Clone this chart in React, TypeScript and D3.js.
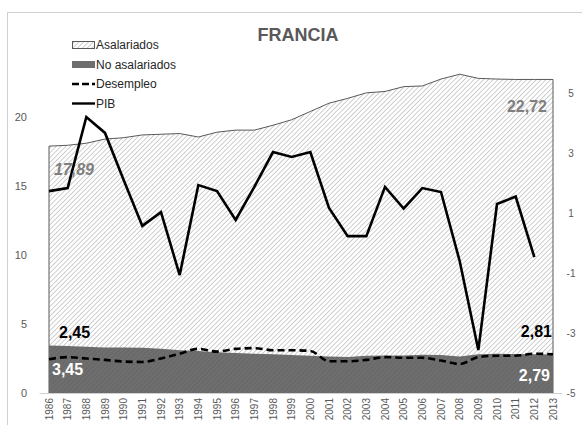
import React, { useEffect, useRef } from "react";
import * as d3 from "d3";

const years = [
  "1986", "1987", "1988", "1989", "1990", "1991", "1992", "1993", "1994", "1995",
  "1996", "1997", "1998", "1999", "2000", "2001", "2002", "2003", "2004", "2005",
  "2006", "2007", "2008", "2009", "2010", "2011", "2012", "2013",
];

// left axis series
const asalariados = [
  17.89, 17.95, 18.1, 18.4, 18.5, 18.7, 18.75, 18.8, 18.55, 18.9,
  19.05, 19.05, 19.4, 19.8, 20.4, 21.0, 21.35, 21.75, 21.85, 22.2,
  22.25, 22.75, 23.1, 22.8, 22.75, 22.72, 22.72, 22.72,
];
const noAsalariados = [
  3.45, 3.4, 3.35, 3.3, 3.3, 3.28, 3.2, 3.1, 3.05, 2.95,
  2.9, 2.85, 2.8, 2.75, 2.7, 2.65, 2.6, 2.7, 2.72, 2.72,
  2.78, 2.75, 2.65, 2.8, 2.85, 2.82, 2.8, 2.79,
];
const desempleo = [
  2.45, 2.6, 2.5, 2.4, 2.28, 2.25, 2.5, 2.85, 3.2, 3.0,
  3.2, 3.25, 3.1, 3.1, 3.05, 2.3, 2.3, 2.4, 2.6, 2.55,
  2.55, 2.35, 2.1, 2.6, 2.7, 2.7, 2.85, 2.81,
];
// right axis series (1986-2012)
const pib = [
  1.73, 1.83, 4.2, 3.67, 2.1, 0.57, 1.03, -1.07, 1.93, 1.73,
  0.77, 1.87, 3.03, 2.87, 3.03, 1.17, 0.23, 0.23, 1.87, 1.15,
  1.83, 1.7, -0.6, -3.57, 1.3, 1.55, -0.47,
];

const leftTicks = [0, 5, 10, 15, 20];
const rightTicks = [-5, -3, -1, 1, 3, 5];
const legendItems = ["Asalariados", "No asalariados", "Desempleo", "PIB"];

const fmt = (v: number) => d3.format(".2f")(v).replace(".", ",");

const App: React.FC = () => {
  const svgRef = useRef<SVGSVGElement | null>(null);

  useEffect(() => {
    if (!svgRef.current) return;
    const width = 582;
    const height = 425;
    const font = "'Liberation Sans', Arial, sans-serif";

    const svg = d3.select(svgRef.current);
    svg.selectAll("*").remove();
    svg.attr("width", width).attr("height", height);

    // patterns
    const defs = svg.append("defs");
    const hatch = defs
      .append("pattern")
      .attr("id", "hatch")
      .attr("patternUnits", "userSpaceOnUse")
      .attr("width", 3.4)
      .attr("height", 3.4)
      .attr("patternTransform", "rotate(45)");
    hatch.append("rect").attr("width", 3.4).attr("height", 3.4).attr("fill", "#fff");
    hatch
      .append("line")
      .attr("x1", 0).attr("y1", 0).attr("x2", 0).attr("y2", 3.4)
      .attr("stroke", "#a8a8a8")
      .attr("stroke-width", 1.1);

    const darkHatch = defs
      .append("pattern")
      .attr("id", "darkHatch")
      .attr("patternUnits", "userSpaceOnUse")
      .attr("width", 3.4)
      .attr("height", 3.4)
      .attr("patternTransform", "rotate(45)");
    darkHatch.append("rect").attr("width", 3.4).attr("height", 3.4).attr("fill", "#6a6a6a");
    darkHatch
      .append("line")
      .attr("x1", 0).attr("y1", 0).attr("x2", 0).attr("y2", 3.4)
      .attr("stroke", "#787878")
      .attr("stroke-width", 1.1);

    // chart border
    svg.append("rect")
      .attr("x", 7.5).attr("y", 12.5)
      .attr("width", width + 20).attr("height", height + 20)
      .attr("fill", "#fff")
      .attr("stroke", "#d0d0d0");

    const x = d3.scalePoint<string>().domain(years).range([49, 553]);
    const yL = d3.scaleLinear().domain([0, 25]).range([393, 48]);
    const yR = d3.scaleLinear().domain([-5, 6.5]).range([393, 48]);

    // title
    svg.append("text")
      .attr("x", 298).attr("y", 41)
      .attr("text-anchor", "middle")
      .attr("font-family", font)
      .attr("font-size", 18)
      .attr("font-weight", "bold")
      .attr("fill", "#595959")
      .text("FRANCIA");

    // areas
    const area = d3
      .area<number>()
      .x((_, i) => x(years[i]) as number)
      .y0(yL(0))
      .y1(d => yL(d));

    svg.append("path")
      .datum(asalariados)
      .attr("d", area as any)
      .attr("fill", "url(#hatch)")
      .attr("stroke", "#595959")
      .attr("stroke-width", 1);

    svg.append("path")
      .datum(noAsalariados)
      .attr("d", area as any)
      .attr("fill", "url(#darkHatch)");

    // x axis line
    const step = x.step();
    svg.append("line")
      .attr("x1", 49 - step / 2).attr("x2", 553 + step / 2)
      .attr("y1", yL(0) + 0.5).attr("y2", yL(0) + 0.5)
      .attr("stroke", "#d0d0d0");

    // desempleo
    const smooth = d3
      .line<number>()
      .x((_, i) => x(years[i]) as number)
      .y(d => yL(d))
      .curve(d3.curveMonotoneX);
    svg.append("path")
      .datum(desempleo)
      .attr("d", smooth as any)
      .attr("fill", "none")
      .attr("stroke", "#000")
      .attr("stroke-width", 2.6)
      .attr("stroke-dasharray", "7,4");

    // PIB
    const pibLine = d3
      .line<number>()
      .x((_, i) => x(years[i]) as number)
      .y(d => yR(d));
    svg.append("path")
      .datum(pib)
      .attr("d", pibLine as any)
      .attr("fill", "none")
      .attr("stroke", "#000")
      .attr("stroke-width", 2.6)
      .attr("stroke-linejoin", "miter");

    // axes labels
    const left = svg.append("g")
      .attr("font-family", font).attr("font-size", 11).attr("fill", "#595959");
    leftTicks.forEach(t => {
      left.append("text")
        .attr("x", 27).attr("y", yL(t)).attr("dy", "0.35em")
        .attr("text-anchor", "end").text(t);
    });
    const right = svg.append("g")
      .attr("font-family", font).attr("font-size", 10).attr("fill", "#595959");
    rightTicks.forEach(t => {
      right.append("text")
        .attr("x", 571).attr("y", yR(t)).attr("dy", "0.35em")
        .attr("text-anchor", "middle").text(t);
    });
    const bottom = svg.append("g")
      .attr("font-family", font).attr("font-size", 10).attr("fill", "#595959");
    years.forEach(yr => {
      bottom.append("text")
        .attr("transform", `translate(${(x(yr) as number) + 3.5},398) rotate(-90)`)
        .attr("text-anchor", "end")
        .text(yr);
    });

    // data labels
    const n = years.length - 1;
    const lbl = svg.append("g")
      .attr("font-family", font).attr("font-size", 16).attr("font-weight", "bold");
    lbl.append("text")
      .attr("x", (x(years[0]) as number) + 25).attr("y", yL(asalariados[0]) + 29)
      .attr("text-anchor", "middle").attr("font-style", "italic")
      .attr("fill", "#7f7f7f").text(fmt(asalariados[0]));
    lbl.append("text")
      .attr("x", (x(years[n]) as number) - 26).attr("y", yL(asalariados[n]) + 33)
      .attr("text-anchor", "middle")
      .attr("fill", "#7f7f7f").text(fmt(asalariados[n]));
    lbl.append("text")
      .attr("x", (x(years[0]) as number) + 10).attr("y", yL(desempleo[0]) - 21)
      .attr("fill", "#000").text(fmt(desempleo[0]));
    lbl.append("text")
      .attr("x", (x(years[0]) as number) + 3).attr("y", yL(noAsalariados[0]) + 30)
      .attr("fill", "#fff").text(fmt(noAsalariados[0]));
    lbl.append("text")
      .attr("x", (x(years[n]) as number) - 1).attr("y", yL(desempleo[n]) - 17)
      .attr("text-anchor", "end")
      .attr("fill", "#000").text(fmt(desempleo[n]));
    lbl.append("text")
      .attr("x", (x(years[n]) as number) - 3).attr("y", yL(noAsalariados[n]) + 26.5)
      .attr("text-anchor", "end")
      .attr("fill", "#fff").text(fmt(noAsalariados[n]));

    // legend
    const lg = svg.append("g").attr("font-family", font).attr("font-size", 12).attr("fill", "#262626");
    legendItems.forEach((name, i) => {
      const cy = 45 + i * 19.5;
      if (i === 0) {
        lg.append("rect").attr("x", 72.5).attr("y", cy - 3.5).attr("width", 22).attr("height", 7)
          .attr("fill", "url(#hatch)").attr("stroke", "#595959");
      } else if (i === 1) {
        lg.append("rect").attr("x", 72).attr("y", cy - 3.5).attr("width", 23).attr("height", 7)
          .attr("fill", "#6e6e6e");
      } else {
        lg.append("line").attr("x1", 72).attr("x2", 95).attr("y1", cy).attr("y2", cy)
          .attr("stroke", "#000").attr("stroke-width", 2.4)
          .attr("stroke-dasharray", i === 2 ? "7,3" : null);
      }
      lg.append("text").attr("x", 96).attr("y", cy).attr("dy", "0.35em").text(name);
    });
  }, []);

  return (
    <div style={{ position: "absolute", left: 0, top: 0 }}>
      <svg ref={svgRef}></svg>
    </div>
  );
};

export default App;
